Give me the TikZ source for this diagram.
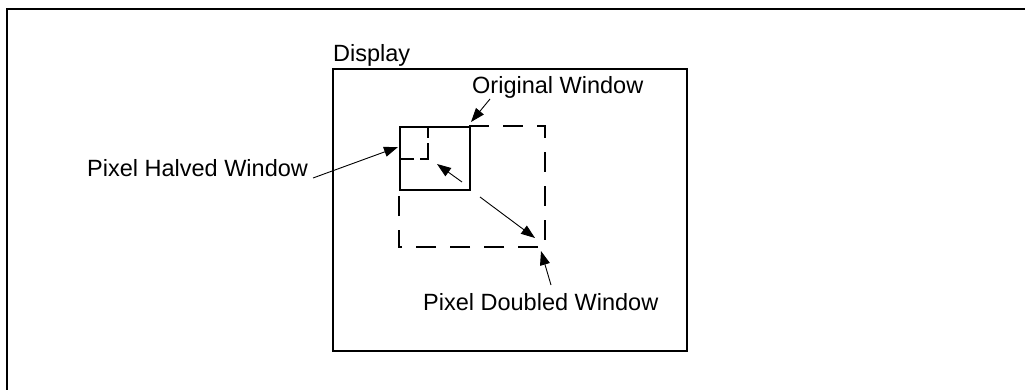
\documentclass[tikz,border=0pt]{standalone}
\usepackage{fontspec}
\setmainfont{Liberation Sans}
\usetikzlibrary{arrows.meta}
\tikzset{
  frameline/.style={line width=1.6pt},
  boxline/.style={line width=2pt},
  bigdash/.style={line width=2pt, dash pattern=on 20pt off 14pt},
  smalldash/.style={line width=2pt, dash pattern=on 12pt off 5pt on 24pt off 6pt on 16pt},
  lbl/.style={anchor=base west, inner sep=0pt, font=\fontsize{23.5}{25}\selectfont},
  ptr/.style={line width=0.9pt, -{Triangle[length=14pt,width=10pt]}}
}
\begin{document}
\begin{tikzpicture}[x=1pt,y=-1pt]
\useasboundingbox (0,0) rectangle (1025,389);
% outer frame (partly cropped)
\draw[frameline] (1030,9) -- (7,9) -- (7,395);
% display
\node[draw, boxline, minimum width=354pt, minimum height=282pt, inner sep=0pt, anchor=north west] (disp) at (332,68) {};
\node[lbl] (displbl) at (333,61) {Display};
% doubled window (dashed)
\coordinate (dtr) at (545,126);
\coordinate (dbr) at (545,247);
\coordinate (dbl) at (399,247);
\draw[bigdash] (469,126) -- (dtr) -- (dbr) -- (dbl) -- (399,189);
% halved window (dashed)
\draw[smalldash] (428,126) -- (428,159) -- (399,159);
% original window
\node[draw, boxline, minimum width=70pt, minimum height=63pt, inner sep=0pt, anchor=north west] (orig) at (399,126) {};
% labels
\node[lbl] (halflbl) at (87,176) {Pixel Halved Window};
\node[lbl] (origlbl) at (472,93) {Original Window};
\node[lbl] (dbllbl) at (423,310) {Pixel Doubled Window};
% arrow end points
\coordinate (halfstart) at (313,178);
\coordinate (halftip) at (398,147);
\coordinate (origstart) at (490,99);
\coordinate (origtip) at (471,122);
\coordinate (smallstart) at (462,182);
\coordinate (smalltip) at (437,164);
\coordinate (bigstart) at (480,197);
\coordinate (bigtip) at (535,238);
\coordinate (dblstart) at (551,285);
\coordinate (dbltip) at (541,251);
\draw[ptr] (halfstart) -- (halftip);
\draw[ptr] (origstart) -- (origtip);
\draw[ptr] (smallstart) -- (smalltip);
\draw[ptr] (bigstart) -- (bigtip);
\draw[ptr] (dblstart) -- (dbltip);
\end{tikzpicture}
\end{document}
